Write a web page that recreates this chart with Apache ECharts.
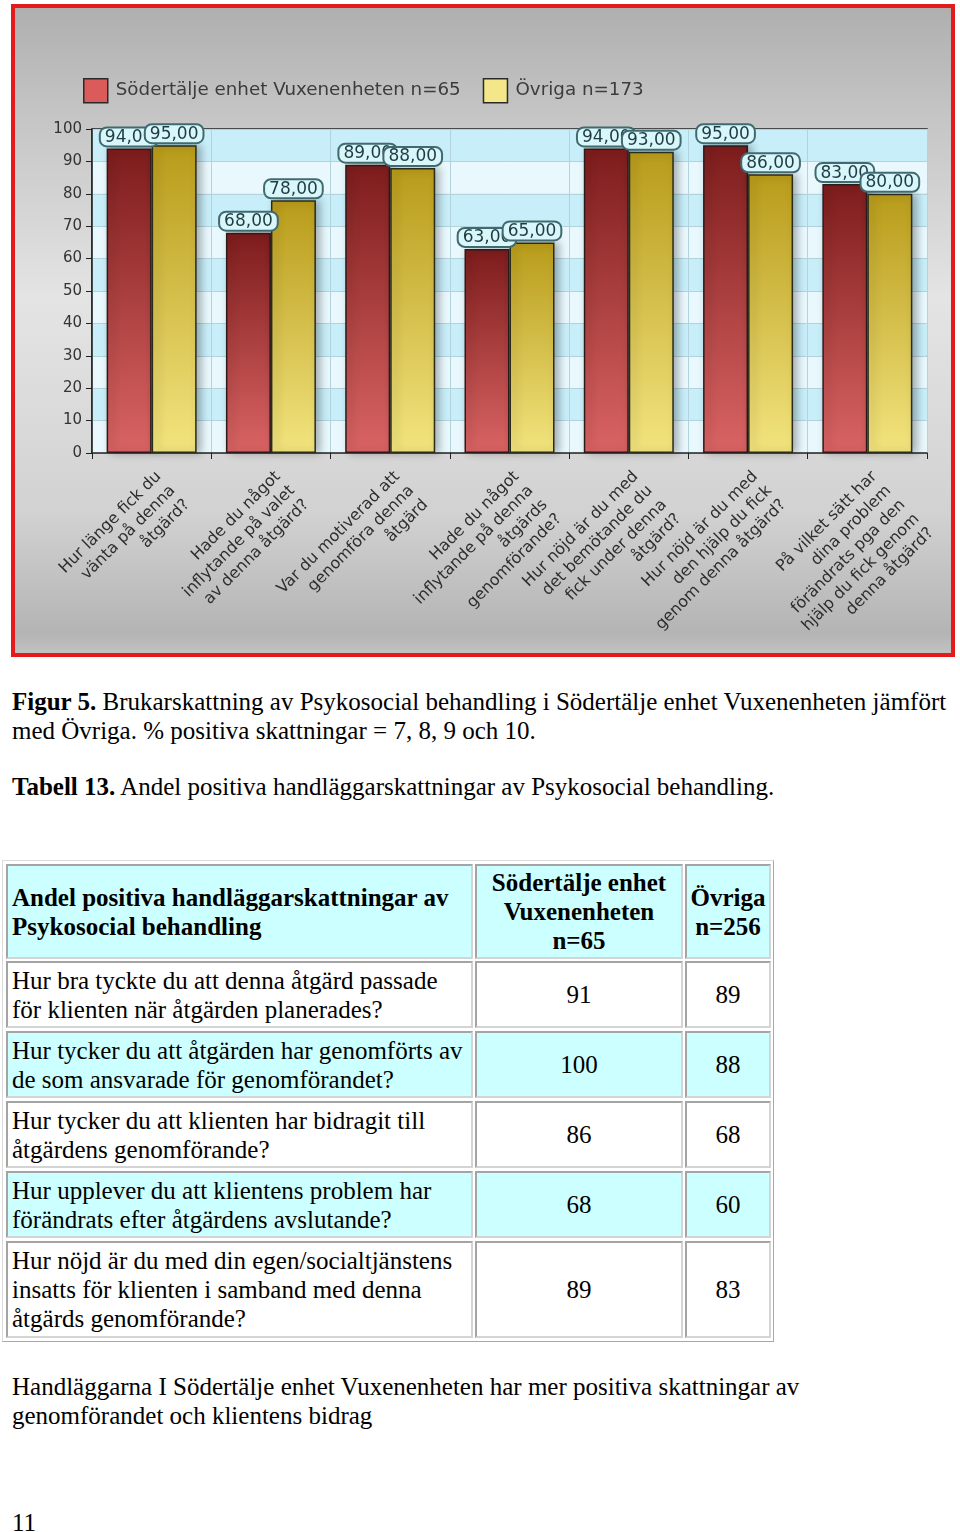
<!DOCTYPE html>
<html>
<head>
<meta charset="utf-8">
<script src="https://cdn.jsdelivr.net/npm/echarts@6/dist/echarts.min.js"></script>
<style>
html,body{margin:0;padding:0;background:#fff;width:960px;height:1532px;overflow:hidden;}
body{position:relative;font-family:"Liberation Serif","Times New Roman",serif;font-size:25px;line-height:29px;color:#000;}
#frame{position:absolute;left:11px;top:4px;width:944px;height:653px;box-sizing:border-box;border:4px solid #e31b1b;}
#chart{width:936px;height:645px;}
.txt{position:absolute;left:12px;white-space:pre;}
#tbl{position:absolute;left:2px;top:860px;width:772px;height:482px;box-sizing:border-box;border:1px solid;border-color:#dcdcdc #a8a8a8 #a8a8a8 #dcdcdc;}
.cell{position:absolute;box-sizing:border-box;border:2px solid;border-color:#a4a4a4 #d4d4d4 #d4d4d4 #a4a4a4;display:flex;align-items:center;white-space:pre;}
.c0{justify-content:flex-start;padding-left:4px;text-align:left;}
.cn{justify-content:center;text-align:center;}
.hd{font-weight:bold;}
</style>
</head>
<body>
<div id="frame"><div id="chart"></div></div>
<div class="txt" id="cap1" style="top:687px;"></div>
<div class="txt" id="cap2" style="top:772px;"></div>
<div id="tbl"></div>
<div class="txt" id="after" style="top:1372px;"></div>
<div class="txt" id="pageno" style="top:1508px;"></div>
<script>
// ---- chart data ----
const categories = [
  'Hur länge fick du\nvänta på denna\nåtgärd?',
  'Hade du något\ninflytande på valet\nav denna åtgärd?',
  'Var du motiverad att\ngenomföra denna\nåtgärd',
  'Hade du något\ninflytande på denna\nåtgärds\ngenomförande?',
  'Hur nöjd är du med\ndet bemötande du\nfick under denna\nåtgärd?',
  'Hur nöjd är du med\nden hjälp du fick\ngenom denna åtgärd?',
  'På vilket sätt har\ndina problem\nförändrats pga den\nhjälp du fick genom\ndenna åtgärd?'
];
const seriesNames = ['Södertälje enhet Vuxenenheten n=65', 'Övriga n=173'];
const sodertaljeValues = [94, 68, 89, 63, 94, 95, 83];
const ovrigaValues = [95, 78, 88, 65, 93, 86, 80];
const yTickMin = 0;
const yTickMax = 100;
const yTickStep = 10;

// ---- text / table data ----
const captionFigBold = 'Figur 5.';
const captionFigText = ' Brukarskattning av Psykosocial behandling i Södertälje enhet Vuxenenheten jämfört\nmed Övriga. % positiva skattningar = 7, 8, 9 och 10.';
const captionTabBold = 'Tabell 13.';
const captionTabText = ' Andel positiva handläggarskattningar av Psykosocial behandling.';
const tableHeader = ['Andel positiva handläggarskattningar av\nPsykosocial behandling', 'Södertälje enhet\nVuxenenheten\nn=65', 'Övriga\nn=256'];
const tableQuestions = [
  'Hur bra tyckte du att denna åtgärd passade\nför klienten när åtgärden planerades?',
  'Hur tycker du att åtgärden har genomförts av\nde som ansvarade för genomförandet?',
  'Hur tycker du att klienten har bidragit till\nåtgärdens genomförande?',
  'Hur upplever du att klientens problem har\nförändrats efter åtgärdens avslutande?',
  'Hur nöjd är du med din egen/socialtjänstens\ninsatts för klienten i samband med denna\nåtgärds genomförande?'
];
const tableSodertalje = [91, 100, 86, 68, 89];
const tableOvriga = [89, 88, 68, 60, 83];
const afterText = 'Handläggarna I Södertälje enhet Vuxenenheten har mer positiva skattningar av\ngenomförandet och klientens bidrag';
const pageNumber = '11';

// ---- text blocks ----
function setCaption(id, b, t) {
  const el = document.getElementById(id);
  const s = document.createElement('b'); s.textContent = b; el.appendChild(s);
  el.appendChild(document.createTextNode(t));
}
setCaption('cap1', captionFigBold, captionFigText);
setCaption('cap2', captionTabBold, captionTabText);
document.getElementById('after').textContent = afterText;
document.getElementById('pageno').textContent = pageNumber;

// ---- table (layout) ----
const colX = [3, 472, 682];
const colW = [467, 208, 86];
const rowY = [3, 100, 170, 240, 310, 380];
const rowH = [95, 67, 67, 67, 67, 97];
const rowBg = ['#ccffff', '#ffffff', '#ccffff', '#ffffff', '#ccffff', '#ffffff'];
const tbl = document.getElementById('tbl');
function addCell(r, c, text, header) {
  const d = document.createElement('div');
  d.className = 'cell ' + (c === 0 ? 'c0' : 'cn') + (header ? ' hd' : '');
  d.style.left = colX[c] + 'px'; d.style.top = rowY[r] + 'px';
  d.style.width = colW[c] + 'px'; d.style.height = rowH[r] + 'px';
  d.style.background = rowBg[r];
  d.textContent = text;
  tbl.appendChild(d);
}
tableHeader.forEach((h, c) => addCell(0, c, h, true));
tableQuestions.forEach((q, i) => {
  addCell(i + 1, 0, q, false);
  addCell(i + 1, 1, String(tableSodertalje[i]), false);
  addCell(i + 1, 2, String(tableOvriga[i]), false);
});

// ---- chart ----
const chart = echarts.init(document.getElementById('chart'), null, {renderer: 'canvas'});
const G = echarts.graphic.LinearGradient;
const labelStyle = {
  show: true,
  position: 'top',
  distance: 3,
  formatter: p => p.value.toFixed(2).replace('.', ','),
  backgroundColor: '#d9f6fa',
  borderColor: '#3f6b70',
  borderWidth: 2,
  borderRadius: 6,
  padding: [1, 4, 0, 4],
  lineHeight: 16,
  fontSize: 17,
  fontFamily: 'DejaVu Sans',
  color: '#1e3d42'
};
const option = {
  animation: false,
  backgroundColor: new G(0, 0, 0, 1, [
    {offset: 0, color: '#afafaf'},
    {offset: 0.16, color: '#c4c4c4'},
    {offset: 0.45, color: '#e4e4e4'},
    {offset: 0.78, color: '#d2d2d2'},
    {offset: 0.97, color: '#b4b4b4'},
    {offset: 1, color: '#c2c2c2'}
  ]),
  legend: {
    left: 63, top: 65,
    itemWidth: 24, itemHeight: 24, itemGap: 22,
    icon: 'rect',
    textStyle: {fontFamily: 'DejaVu Sans', fontSize: 18.3, color: '#3c3c3c', padding: [0, 0, 0, 3]},
    data: [
      {name: seriesNames[0], itemStyle: {color: '#db5b5b', borderColor: '#2a2a2a', borderWidth: 1.5}},
      {name: seriesNames[1], itemStyle: {color: '#f3e78a', borderColor: '#2a2a2a', borderWidth: 1.5}}
    ]
  },
  grid: {left: 77, right: 24, top: 121, bottom: 200, show: true, borderColor: '#222', borderWidth: 1.5, backgroundColor: 'transparent', containLabel: false, outerBoundsMode: 'none'},
  xAxis: {
    type: 'category',
    data: categories,
    axisLine: {show: true, lineStyle: {color: '#222', width: 1.5}},
    axisTick: {show: true, length: 6, lineStyle: {color: '#222'}},
    splitLine: {show: true, lineStyle: {color: '#b2d3dc'}},
    axisLabel: {
      interval: 0, rotate: 45, align: 'right', verticalAlign: 'top', margin: 14,
      fontFamily: 'DejaVu Sans', fontSize: 16, lineHeight: 20, color: '#2e2e2e'
    }
  },
  yAxis: {
    type: 'value', min: yTickMin, max: yTickMax, interval: yTickStep,
    axisLine: {show: true, lineStyle: {color: '#222', width: 1.5}},
    axisTick: {show: true, length: 6, lineStyle: {color: '#222'}},
    axisLabel: {fontFamily: 'DejaVu Sans', fontSize: 15, color: '#333', margin: 10},
    splitLine: {show: true, lineStyle: {color: '#b2d3dc'}},
    splitArea: {show: true, areaStyle: {color: ['#e8f8fd', '#c8eef9']}}
  },
  series: [
    {
      name: seriesNames[0], type: 'bar', data: sodertaljeValues,
      barWidth: 45, barGap: '0%',
      itemStyle: {
        color: new G(0, 0, 0, 1, [{offset: 0, color: '#7d1c1c'}, {offset: 1, color: '#da6464'}]),
        borderColor: '#2b1b1b', borderWidth: 1.5,
        shadowBlur: 8, shadowColor: 'rgba(0,0,0,0.3)', shadowOffsetX: 4
      },
      label: labelStyle
    },
    {
      name: seriesNames[1], type: 'bar', data: ovrigaValues,
      barWidth: 45, barGap: '0%',
      itemStyle: {
        color: new G(0, 0, 0, 1, [{offset: 0, color: '#b89b1a'}, {offset: 1, color: '#f2e47e'}]),
        borderColor: '#2b2b1b', borderWidth: 1.5,
        shadowBlur: 8, shadowColor: 'rgba(0,0,0,0.3)', shadowOffsetX: 4
      },
      label: labelStyle
    }
  ]
};
chart.setOption(option);
</script>
</body>
</html>
